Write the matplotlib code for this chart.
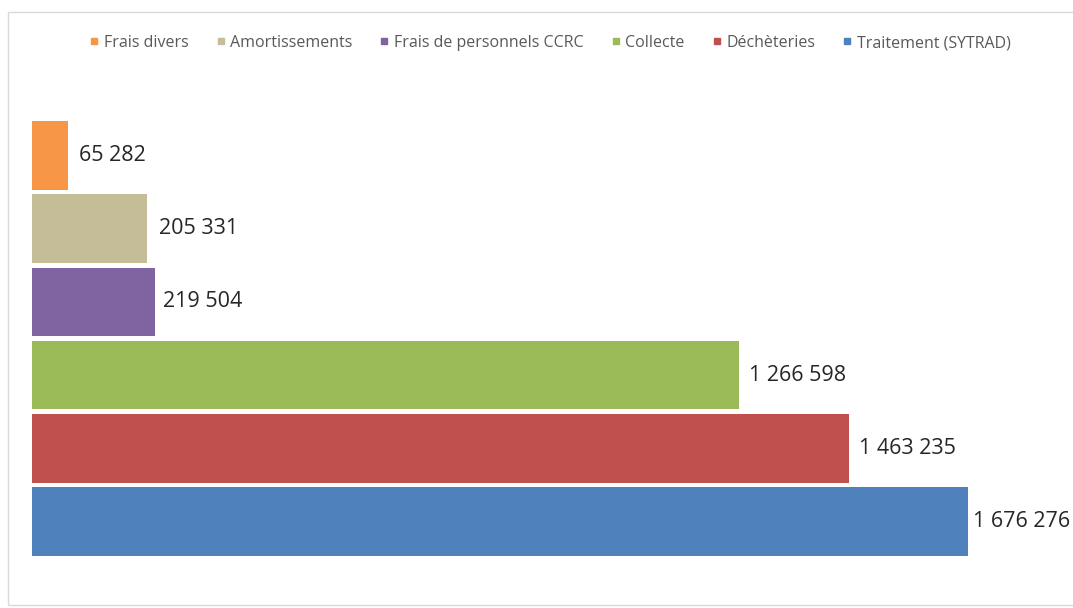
import matplotlib.pyplot as plt
from matplotlib.patches import Rectangle
from matplotlib.lines import Line2D

# series, bottom to top as drawn
labels = ['Traitement (SYTRAD)', 'Déchèteries', 'Collecte',
          'Frais de personnels CCRC', 'Amortissements', 'Frais divers']
values = [1676276, 1463235, 1266598, 219504, 205331, 65282]
colors = ['#4F81BD', '#C0504D', '#9BBB59', '#8064A2', '#C4BD97', '#F79646']
legend_order = ['Frais divers', 'Amortissements', 'Frais de personnels CCRC',
                'Collecte', 'Déchèteries', 'Traitement (SYTRAD)']

W, H = 1073, 608
fig = plt.figure(figsize=(W / 100, H / 100), dpi=100)
plt.rcParams['font.family'] = ['Open Sans', 'DejaVu Sans']

# light outer frame like the Excel chart area
fig.patches.append(Rectangle((8 / W, 1 - 605 / H), 1.1, (605 - 12) / H,
                             transform=fig.transFigure, fill=False,
                             edgecolor='#D9D9D9', linewidth=1))

x0, x_max_px = 32, 968
ax = fig.add_axes([x0 / W, 1 - 558 / H, (W - x0) / W, (558 - 119) / H])
pos = list(range(len(values)))
ax.barh(pos, values, height=0.94, color=colors)

def fmt(v):
    return '{:,}'.format(v).replace(',', ' ')

offsets = [5, 10, 10, 8, 12, 11]
for p, v, off in zip(pos, values, offsets):
    ax.annotate(fmt(v), (v, p), xytext=(off, 0), textcoords='offset pixels',
                ha='left', va='center', fontsize=15.5, color='#262626',
                family=['Open Sans', 'DejaVu Sans'], annotation_clip=False)

ax.set_xlim(0, values[0] * (W - x0) / (x_max_px - x0))
ax.set_ylim(-0.5, len(values) - 0.5)
ax.axis('off')

handles = []
for name in legend_order:
    c = colors[labels.index(name)]
    handles.append(Line2D([], [], marker='s', linestyle='none', markersize=3.8,
                          markerfacecolor=c, markeredgecolor=c))
leg = fig.legend(handles, legend_order, loc='center', ncol=6,
                 bbox_to_anchor=(550 / W, 1 - 43 / H), frameon=False,
                 fontsize=11.5, handlelength=0.6, handletextpad=0.3,
                 columnspacing=1.7, labelcolor='#595959')

fig.savefig('out.png', dpi=100)
